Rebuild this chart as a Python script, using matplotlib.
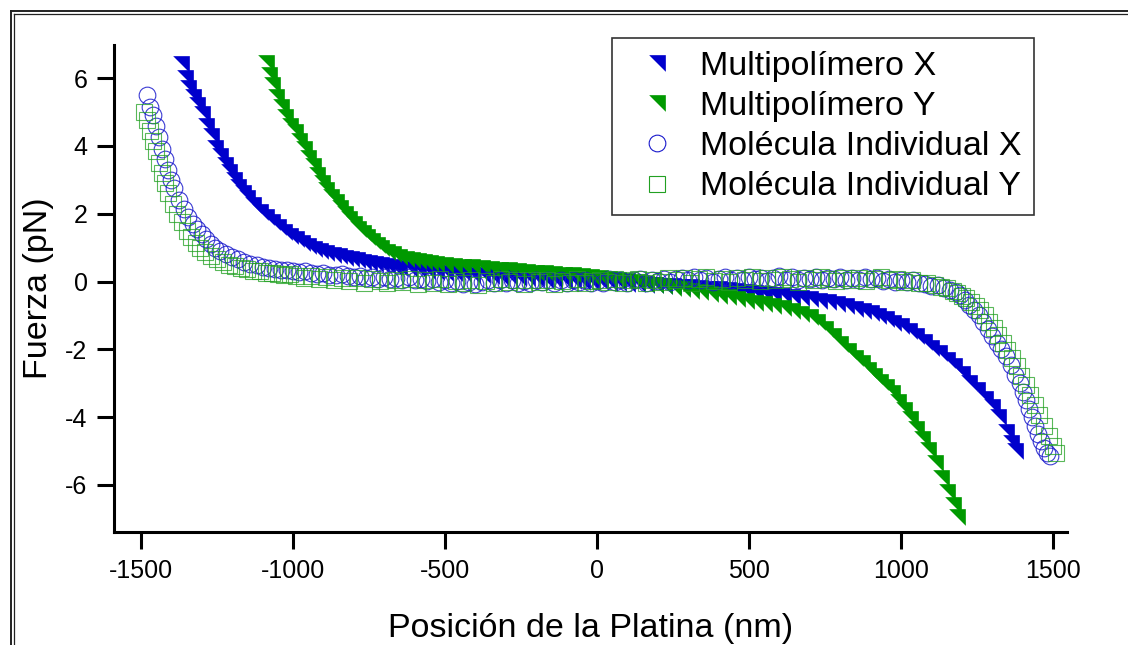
import matplotlib
matplotlib.use('Agg')
import matplotlib.pyplot as plt
from matplotlib.lines import Line2D

plt.rcParams['font.family'] = ['Liberation Sans', 'DejaVu Sans']
plt.rcParams['axes.unicode_minus'] = False

# Multipolímero X (triángulos azules)
mx_x = [-1370, -1355, -1345, -1330, -1315, -1300, -1285, -1270, -1255, -1240, -1225, -1210,
        -1195, -1180, -1165, -1150, -1130, -1110, -1090, -1070, -1050, -1030, -1010, -990,
        -970, -950, -930, -910, -890, -870, -850, -830, -810, -790, -770, -750, -730, -710,
        -690, -670, -650, -620, -590, -560, -530, -500, -470, -440, -410, -380, -350, -320,
        -290, -260, -230, -200, -170, -140, -110, -80, -50, -20, 10, 40, 70, 100, 130, 160,
        190, 220, 250, 280, 310, 340, 370, 400, 430, 460, 490, 520, 550, 580, 610, 640, 670,
        700, 730, 760, 790, 820, 850, 875, 900, 925, 950, 975, 1000, 1025, 1050, 1075, 1100,
        1125, 1150, 1175, 1200, 1225, 1250, 1275, 1300, 1320, 1345, 1360, 1375]
mx_y = [6.40, 6.00, 5.70, 5.45, 5.20, 4.95, 4.60, 4.30, 3.95, 3.70, 3.45, 3.22,
        3.00, 2.80, 2.60, 2.45, 2.25, 2.05, 1.90, 1.75, 1.60, 1.45, 1.35, 1.25,
        1.15, 1.05, 0.97, 0.90, 0.85, 0.78, 0.74, 0.70, 0.66, 0.62, 0.59, 0.56, 0.53, 0.50,
        0.47, 0.44, 0.41, 0.37, 0.34, 0.31, 0.28, 0.26, 0.24, 0.22, 0.20, 0.18, 0.16, 0.14,
        0.12, 0.10, 0.09, 0.07, 0.05, 0.04, 0.02, 0.01, 0.00, -0.01, -0.02, -0.03, -0.05, -0.06, -0.07, -0.09,
        -0.10, -0.12, -0.13, -0.15, -0.17, -0.19, -0.21, -0.23, -0.25, -0.27, -0.30, -0.33, -0.36, -0.39, -0.42, -0.45, -0.48,
        -0.52, -0.56, -0.60, -0.65, -0.72, -0.80, -0.86, -0.92, -1.02, -1.12, -1.22, -1.32, -1.45, -1.62, -1.78, -1.95,
        -2.10, -2.30, -2.50, -2.72, -2.98, -3.20, -3.45, -3.70, -4.00, -4.45, -4.75, -5.00]

# Multipolímero Y (triángulos verdes)
my_x = [-1090, -1080, -1070, -1055, -1040, -1025, -1010, -995, -980, -965, -950, -935, -920,
        -905, -890, -875, -860, -845, -830, -815, -800, -785, -770, -755, -740, -725, -710,
        -690, -670, -650, -630, -610, -590, -570, -550, -530, -500, -470, -440, -410, -380,
        -350, -320, -290, -260, -230, -200, -170, -140, -110, -80, -50, -20, 10, 40, 70, 100,
        130, 160, 190, 220, 250, 280, 310, 340, 370, 400, 430, 460, 490, 520, 550, 580, 610,
        640, 670, 700, 725, 750, 775, 800, 825, 850, 870, 890, 910, 930, 950, 970, 990, 1010,
        1030, 1050, 1070, 1090, 1110, 1130, 1150, 1170, 1185]
my_y = [6.45, 6.10, 5.80, 5.45, 5.15, 4.85, 4.60, 4.40, 4.15, 3.90, 3.65, 3.40, 3.15,
        2.90, 2.70, 2.50, 2.35, 2.18, 2.00, 1.85, 1.70, 1.55, 1.42, 1.30, 1.18, 1.08, 0.98,
        0.88, 0.80, 0.72, 0.67, 0.63, 0.60, 0.57, 0.55, 0.53, 0.50, 0.47, 0.44, 0.42, 0.39,
        0.37, 0.35, 0.33, 0.30, 0.28, 0.26, 0.24, 0.22, 0.20, 0.18, 0.16, 0.14, 0.11, 0.08, 0.05, 0.02,
        -0.02, -0.06, -0.10, -0.14, -0.18, -0.22, -0.27, -0.32, -0.37, -0.42, -0.47, -0.52, -0.57, -0.62, -0.67, -0.72, -0.78,
        -0.86, -0.95, -1.05, -1.20, -1.40, -1.62, -1.85, -2.05, -2.25, -2.40, -2.62, -2.80, -2.95, -3.12, -3.30, -3.55, -3.78,
        -4.05, -4.35, -4.65, -4.98, -5.35, -5.80, -6.20, -6.60, -6.95]

# Molécula Individual X (círculos azules)
ix_x = [-1480, -1470, -1460, -1450, -1440, -1430, -1420, -1410, -1400, -1390, -1375, -1360,
        -1345, -1330, -1315, -1300, -1285, -1270, -1255, -1240, -1220, -1200, -1180, -1160,
        -1140, -1120, -1100, -1080, -1060, -1040, -1020, -1000, -980, -960, -940, -920, -900,
        -880, -860, -840, -820, -800, -780, -760, -740, -720, -700, -680, -660, -640, -620,
        -600, -580, -560, -540, -520, -500, -480, -460, -440, -420, -400, -380, -360, -340,
        -320, -300, -280, -260, -240, -220, -200, -180, -160, -140, -120, -100, -80, -60, -40,
        -20, 0, 20, 40, 60, 80, 100, 120, 140, 160, 180, 200, 220, 240, 260, 280, 300, 320,
        340, 360, 380, 400, 420, 440, 460, 480, 500, 520, 540, 560, 580, 600, 620, 640, 660,
        680, 700, 720, 740, 760, 780, 800, 820, 840, 860, 880, 900, 920, 940, 960, 980, 1000,
        1020, 1040, 1060, 1080, 1100, 1120, 1140, 1160, 1180, 1195, 1210, 1225, 1240, 1255,
        1270, 1285, 1300, 1315, 1330, 1345, 1360, 1375, 1390, 1400, 1410, 1420, 1430, 1440,
        1450, 1460, 1470, 1480, 1490]
ix_y = [5.50, 5.15, 4.90, 4.60, 4.25, 3.90, 3.60, 3.30, 3.00, 2.75, 2.40, 2.15,
        1.90, 1.70, 1.55, 1.40, 1.25, 1.10, 1.00, 0.90, 0.80, 0.72, 0.65, 0.58,
        0.52, 0.48, 0.44, 0.40, 0.38, 0.34, 0.33, 0.30, 0.28, 0.30, 0.24, 0.22, 0.25,
        0.20, 0.18, 0.22, 0.15, 0.12, 0.17, 0.10, 0.14, 0.08, 0.12, 0.06, 0.10, 0.05, 0.12,
        0.04, 0.08, 0.02, 0.06, -0.02, 0.05, -0.04, 0.02, -0.06, 0.00, -0.08, -0.02, 0.04, -0.05,
        0.03, -0.04, 0.05, -0.03, 0.02, -0.05, 0.04, -0.02, 0.05, -0.04, 0.03, -0.03, 0.04, -0.02, 0.05,
        -0.04, 0.02, -0.03, 0.06, -0.02, 0.04, -0.05, 0.03, 0.07, -0.03, 0.05, 0.02, 0.08, -0.02, 0.06, 0.10, 0.03, 0.12,
        0.04, 0.09, -0.02, 0.07, 0.13, 0.03, 0.10, 0.05, 0.14, 0.06, 0.11, 0.02, 0.09, 0.15, 0.05, 0.12, 0.03,
        0.10, 0.08, 0.14, 0.04, 0.11, 0.07, 0.13, 0.05, 0.10, 0.03, 0.12, 0.06, 0.09, 0.02, 0.07, 0.00, 0.04,
        -0.02, 0.03, -0.05, -0.08, -0.12, -0.10, -0.20, -0.25, -0.30, -0.40, -0.55, -0.70, -0.85, -1.00,
        -1.20, -1.40, -1.60, -1.80, -2.00, -2.20, -2.45, -2.75, -3.00, -3.25, -3.50, -3.75, -4.00, -4.25,
        -4.50, -4.70, -4.90, -5.05, -5.15]

# Molécula Individual Y (cuadrados verdes)
iy_x = [-1490, -1480, -1470, -1460, -1450, -1440, -1430, -1420, -1410, -1395, -1380, -1365,
        -1350, -1335, -1320, -1305, -1290, -1270, -1250, -1230, -1210, -1190, -1170, -1150,
        -1130, -1110, -1090, -1070, -1050, -1030, -1010, -990, -965, -940, -915, -890, -865,
        -840, -815, -790, -765, -740, -715, -690, -665, -640, -615, -590, -565, -540, -515,
        -490, -465, -440, -415, -390, -365, -340, -315, -290, -265, -240, -215, -190, -165,
        -140, -115, -90, -65, -40, -15, 10, 35, 60, 85, 110, 135, 160, 185, 210, 235, 260,
        285, 310, 335, 360, 385, 410, 435, 460, 485, 510, 535, 560, 585, 610, 635, 660, 685,
        710, 735, 760, 785, 810, 835, 860, 885, 910, 935, 960, 985, 1010, 1035, 1060, 1085,
        1110, 1130, 1150, 1170, 1185, 1200, 1215, 1230, 1245, 1260, 1275, 1290, 1305, 1320,
        1335, 1350, 1365, 1380, 1395, 1410, 1425, 1440, 1455, 1470, 1485, 1500, 1510]
iy_y = [5.00, 4.75, 4.45, 4.15, 3.85, 3.50, 3.20, 2.90, 2.60, 2.30, 2.00, 1.75,
        1.50, 1.30, 1.15, 1.00, 0.88, 0.75, 0.65, 0.58, 0.50, 0.45, 0.40, 0.36,
        0.32, 0.30, 0.26, 0.24, 0.22, 0.18, 0.21, 0.15, 0.10, 0.17, 0.08, 0.13, 0.04,
        0.11, 0.02, 0.09, -0.03, 0.06, 0.01, -0.05, 0.05, -0.02, 0.07, -0.06, 0.03, -0.04, 0.06,
        -0.08, 0.02, -0.03, 0.05, -0.10, 0.01, -0.05, 0.06, -0.02, 0.03, -0.07, 0.04, -0.01, 0.05,
        -0.06, 0.02, -0.03, 0.06, -0.04, 0.01, 0.05, -0.02, 0.07, -0.05, 0.03, 0.08, -0.03, 0.05, 0.00, 0.09, 0.03,
        0.10, -0.04, 0.06, 0.12, 0.02, 0.08, -0.02, 0.11, 0.05, 0.13, 0.01, 0.09, 0.04, 0.12, 0.06, -0.02, 0.10,
        0.04, 0.13, 0.07, 0.02, 0.11, 0.05, 0.09, 0.01, 0.08, 0.12, 0.03, 0.06, 0.00, 0.05, -0.03, -0.05,
        -0.10, -0.15, -0.20, -0.28, -0.35, -0.42, -0.50, -0.60, -0.72, -0.85, -1.00, -1.18, -1.38, -1.58,
        -1.80, -2.02, -2.25, -2.50, -2.78, -3.05, -3.35, -3.65, -3.95, -4.25, -4.55, -4.85, -5.05]

labels = ['Multipolímero X', 'Multipolímero Y', 'Molécula Individual X', 'Molécula Individual Y']
x_ticks = [-1500, -1000, -500, 0, 500, 1000, 1500]
y_ticks = [-6, -4, -2, 0, 2, 4, 6]

tri = [(-1, 1), (1, 1), (1, -1), (-1, 1)]

fig = plt.figure(figsize=(11.28, 6.45), dpi=100)
ax = fig.add_axes([0.101, 0.175, 0.845, 0.755])

ax.plot(mx_x, mx_y, ls='none', marker=tri, ms=12, color='#0000cc', mec='none', label=labels[0])
ax.plot(my_x, my_y, ls='none', marker=tri, ms=12, color='#009900', mec='none', label=labels[1])
ax.plot(ix_x, ix_y, ls='none', marker='o', ms=12, mfc='none', mec='#1a1acc', mew=0.8,
        alpha=0.85, label=labels[2])
ax.plot(iy_x, iy_y, ls='none', marker='s', ms=11, mfc='none', mec='#22a022', mew=0.8,
        alpha=0.75, label=labels[3])

ax.set_xlim(-1589, 1546)
ax.set_ylim(-7.39, 6.97)
ax.set_xticks(x_ticks)
ax.set_yticks(y_ticks)
ax.tick_params(labelsize=18, length=12, width=2.2, pad=7)
for s in ['top', 'right']:
    ax.spines[s].set_visible(False)
for s in ['left', 'bottom']:
    ax.spines[s].set_linewidth(2.2)

ax.set_xlabel('Posición de la Platina (nm)', fontsize=24.5, labelpad=22)
ax.set_ylabel('Fuerza (pN)', fontsize=24.5, labelpad=8)

leg = ax.legend(loc='upper right', bbox_to_anchor=(1034 / 1128, 1 - 38 / 645),
                bbox_transform=fig.transFigure, fontsize=24.5, frameon=True, fancybox=False,
                borderpad=0.38, handlelength=1.9, handletextpad=0.3, labelspacing=0.27,
                borderaxespad=0)
leg.get_frame().set_edgecolor('black')
leg.get_frame().set_linewidth(1.2)
for h in leg.legend_handles:
    h.set_alpha(1)

# doble marco alrededor de la figura
W, H = 1128, 645
for off, lw in [(10.5, 1.4), (14, 0.9)]:
    xs = [off / W, 1.05, 1.05, off / W, off / W]
    ys = [1 - off / H, 1 - off / H, -0.05, -0.05, 1 - off / H]
    fig.add_artist(Line2D(xs, ys, transform=fig.transFigure, color='#222222', lw=lw))

fig.savefig('out.png', dpi=100)
